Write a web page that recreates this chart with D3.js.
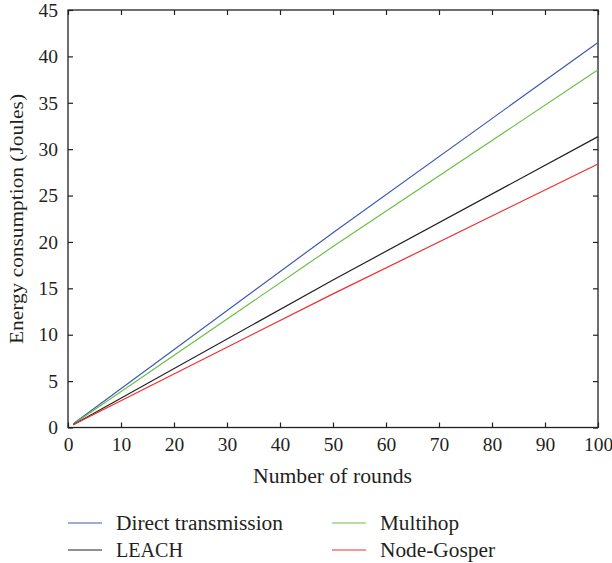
<!DOCTYPE html>
<html><head><meta charset="utf-8">
<script src="https://cdn.jsdelivr.net/npm/d3@7"></script>
<style>body{margin:0;background:#fff;} text{font-family:"Liberation Serif","DejaVu Serif",serif;fill:#231f20;}</style>
</head><body>
<svg id="c" width="612" height="563"></svg>
<script>
const rounds = [1, 50, 100];
const directTx = [0.4, 21.0, 41.5];
const multihop = [0.35, 19.5, 38.55];
const leach = [0.3, 15.9, 31.35];
const nodeGosper = [0.3, 14.4, 28.4];
const xTicks = [0,10,20,30,40,50,60,70,80,90,100];
const yTicks = [0,5,10,15,20,25,30,35,40,45];
const seriesNames = ["Direct transmission","Multihop","LEACH","Node-Gosper"];
const seriesColors = ["#3d59b3","#6cbf45","#231f20","#ee2e2e"];
const seriesValues = [directTx, multihop, leach, nodeGosper];

const svg = d3.select("#c");
const L=68, R=598, T=10, B=427.5;
const x = d3.scaleLinear().domain([0,100]).range([L,R]);
const y = d3.scaleLinear().domain([0,45]).range([B,T]);

const g = svg.append("g");
g.append("rect").attr("x",L).attr("y",T).attr("width",R-L).attr("height",B-T)
 .attr("fill","none").attr("stroke","#231f20").attr("stroke-width",1.3);

const ax = (sel)=>{sel.select(".domain").remove(); sel.selectAll("line").attr("stroke","#231f20").attr("stroke-width",1.2);
  sel.selectAll("text").attr("font-size",19.5).style("font-family","'Liberation Serif',serif").attr("fill","#231f20");};

g.append("g").attr("transform",`translate(0,${B})`)
 .call(d3.axisBottom(x).tickValues(xTicks).tickSizeInner(-5).tickSizeOuter(0).tickPadding(10)).call(ax);
g.append("g").attr("transform",`translate(0,${T})`)
 .call(d3.axisTop(x).tickValues(xTicks).tickSizeInner(-5).tickSizeOuter(0).tickFormat("")).call(ax);
g.append("g").attr("transform",`translate(${L},0)`)
 .call(d3.axisLeft(y).tickValues(yTicks).tickSizeInner(-5).tickSizeOuter(0).tickPadding(10)).call(ax);
g.append("g").attr("transform",`translate(${R},0)`)
 .call(d3.axisRight(y).tickValues(yTicks).tickSizeInner(-5).tickSizeOuter(0).tickFormat("")).call(ax);

const line = d3.line().x((d,i)=>x(rounds[i])).y(d=>y(d));
seriesValues.forEach((vals,k)=>{
  g.append("path").datum(vals).attr("d",line).attr("fill","none")
   .attr("stroke",seriesColors[k]).attr("stroke-width",1.2);
});

svg.append("text").attr("x",332.5).attr("y",483).attr("text-anchor","middle").attr("font-size",20)
 .attr("textLength",159).attr("lengthAdjust","spacingAndGlyphs").text("Number of rounds");
svg.append("text").attr("transform",`translate(23,219) rotate(-90)`).attr("text-anchor","middle").attr("font-size",19)
 .attr("textLength",250).attr("lengthAdjust","spacingAndGlyphs").text("Energy consumption (Joules)");

const legPos = [[68,523],[332,523],[68,550],[332,550]];
const legLen = [167, 79, 67, 115];
seriesNames.forEach((n,k)=>{
  const [lx,ly]=legPos[k];
  svg.append("line").attr("x1",lx).attr("x2",lx+34).attr("y1",ly).attr("y2",ly).attr("stroke",seriesColors[k]).attr("stroke-width",1.2);
  svg.append("text").attr("x",lx+48).attr("y",ly+6.5).attr("font-size",20)
   .attr("textLength",legLen[k]).attr("lengthAdjust","spacingAndGlyphs").text(n);
});
</script>
</body></html>
